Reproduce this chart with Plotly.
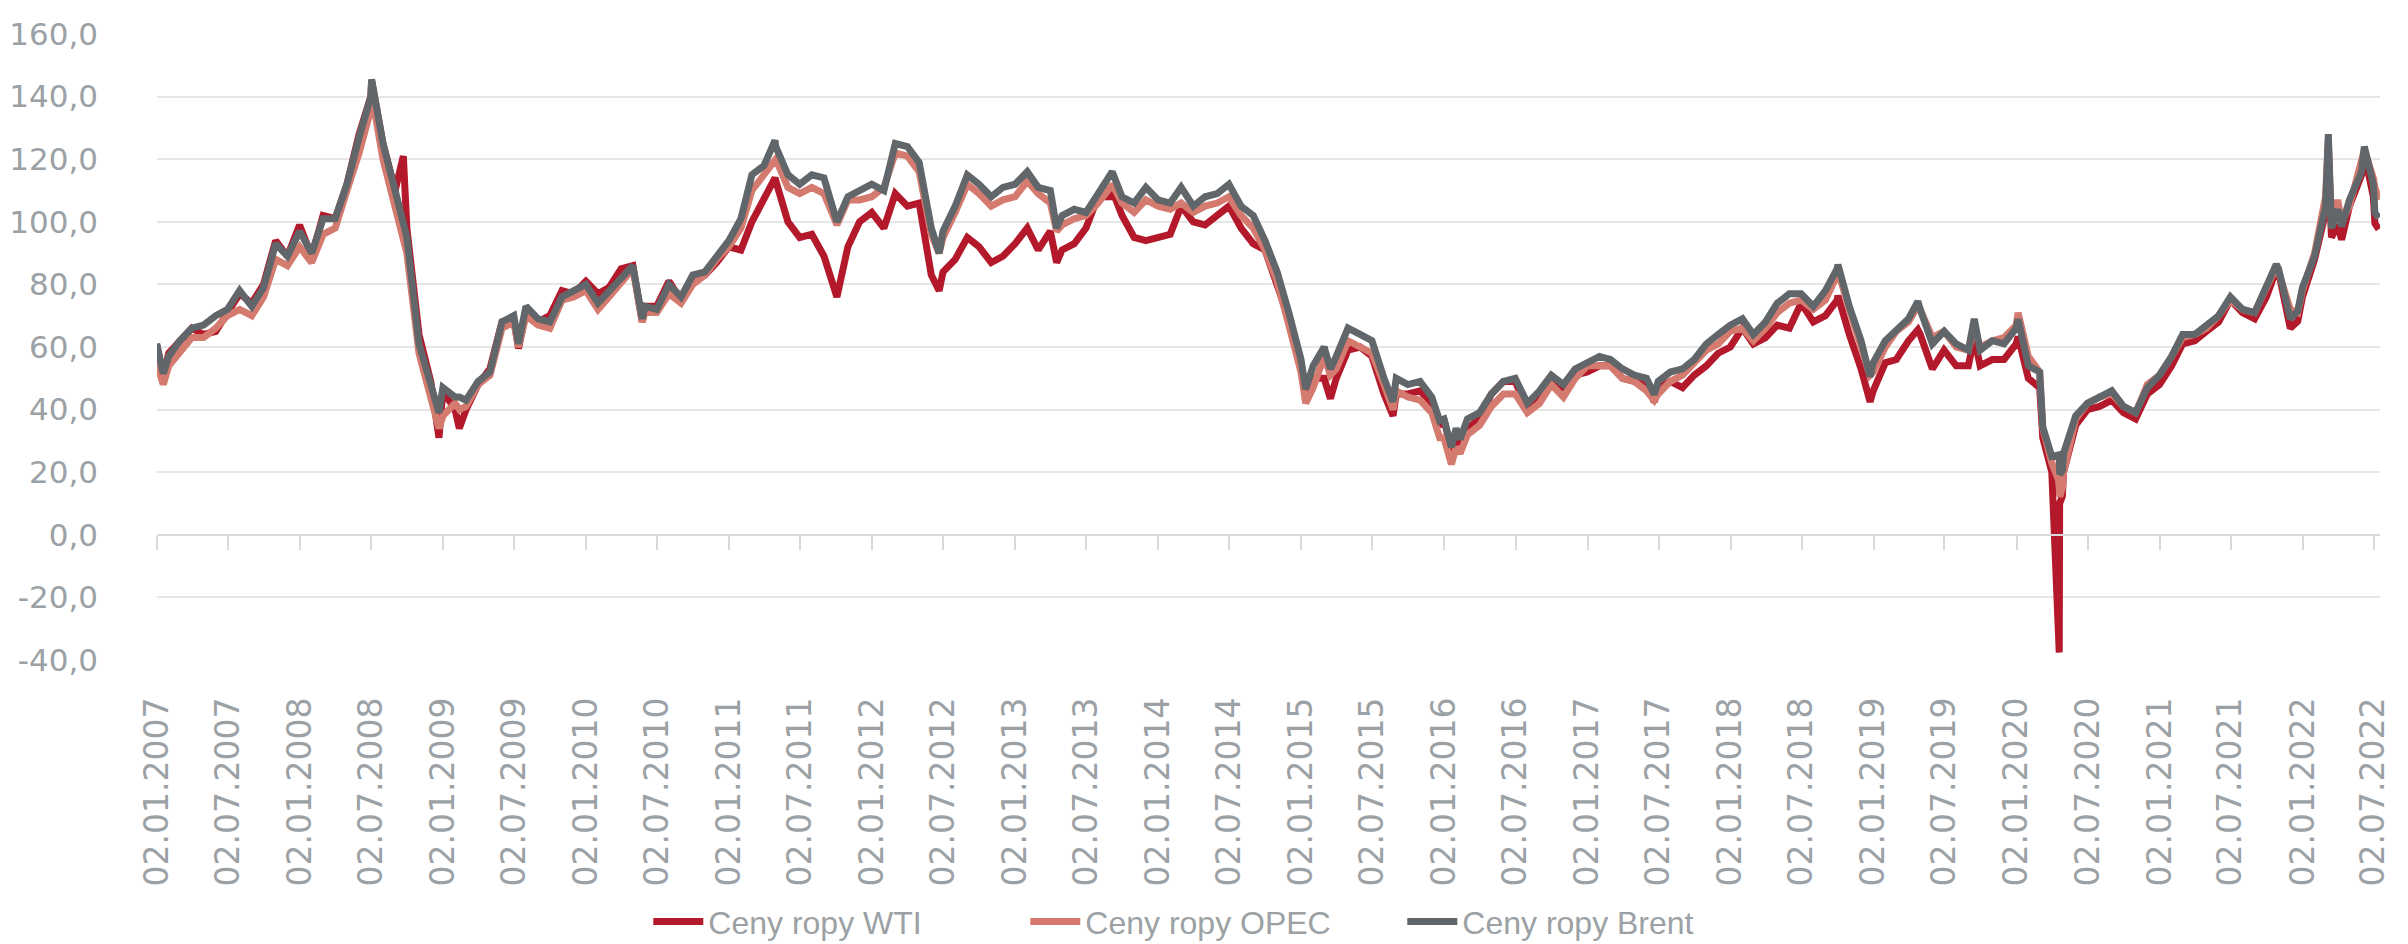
import plotly.graph_objects as go
import pandas as pd

# first trading day of each month, Jan 2007 .. Jul 2022
months = [f"{y}-{m:02d}-01" for y in range(2007, 2023) for m in range(1, 13)][:187]

wti = [
    61, 58, 62, 66, 64, 65, 71, 77, 74, 80, 94, 89,        # 2007
    99, 89, 102, 101, 112, 128, 140, 125, 110, 98, 64, 49,  # 2008
    46, 40, 40, 48, 53, 68, 69, 71, 68, 70, 78, 77,        # 2009
    81, 77, 79, 85, 86, 73, 73, 81, 75, 82, 83, 87,        # 2010
    92, 91, 100, 108, 113, 100, 95, 96, 89, 78, 92, 100,   # 2011
    103, 98, 109, 105, 106, 83, 84, 88, 95, 92, 87, 89,    # 2012
    93, 98, 91, 97, 91, 93, 98, 108, 108, 102, 95, 94,     # 2013
    95, 96, 105, 100, 99, 102, 105, 98, 93, 91, 79, 69,    # 2014
    53, 50, 50, 50, 59, 60, 57, 45, 45, 45, 46, 42,        # 2015
    37, 32, 34, 37, 45, 49, 49, 40, 43, 49, 47, 51,        # 2016
    52, 54, 54, 50, 49, 48, 47, 49, 47, 51, 54, 58,        # 2017
    60, 66, 61, 63, 67, 66, 74, 68, 70, 75, 64, 53,        # 2018
    46, 55, 56, 62, 64, 53, 59, 54, 54, 54, 56, 56,        # 2019
    61, 50, 47, 20, 20, 35, 40, 41, 43, 39, 37, 45,        # 2020
    48, 54, 61, 62, 65, 68, 75, 71, 69, 76, 84, 66,        # 2021
    76, 88, 103, 99, 105, 115, 108,                        # 2022
]

opec = [
    55, 54, 58, 63, 63, 66, 70, 72, 70, 76, 88, 86,
    92, 87, 96, 98, 110, 122, 136, 120, 105, 90, 58, 45,
    38, 42, 41, 48, 51, 66, 68, 70, 67, 66, 75, 76,
    78, 72, 76, 81, 85, 71, 71, 77, 74, 80, 83, 88,
    92, 98, 110, 115, 120, 111, 109, 111, 109, 100, 107, 107,
    108, 111, 122, 121, 116, 96, 95, 103, 112, 109, 105, 107,
    108, 113, 109, 106, 99, 101, 102, 106, 111, 106, 103, 107,
    105, 104, 106, 103, 105, 106, 108, 102, 98, 91, 81, 67,
    52, 47, 57, 53, 62, 60, 58, 48, 46, 44, 43, 39,
    31, 28, 32, 35, 41, 45, 45, 39, 42, 48, 44, 50,
    54, 54, 54, 50, 49, 46, 45, 49, 51, 55, 59, 61,
    65, 66, 62, 66, 71, 74, 75, 72, 75, 83, 72, 59,
    52, 60, 65, 68, 72, 63, 65, 60, 59, 60, 62, 63,
    67, 57, 52, 23, 20, 37, 42, 44, 45, 41, 39, 48,
    51, 57, 63, 64, 66, 70, 75, 72, 71, 79, 84, 72,
    78, 90, 108, 107, 105, 120, 114,
]

brent = [
    61, 57, 62, 66, 67, 70, 72, 78, 73, 79, 93, 89,
    97, 90, 101, 101, 112, 127, 140, 125, 110, 95, 61, 47,
    47, 44, 43, 49, 52, 68, 70, 73, 69, 68, 76, 78,
    80, 74, 78, 82, 86, 73, 72, 80, 76, 83, 84, 89,
    94, 101, 115, 118, 124, 115, 112, 115, 114, 101, 108, 110,
    112, 110, 125, 124, 119, 98, 97, 105, 115, 112, 108, 111,
    112, 116, 111, 110, 102, 104, 103, 109, 115, 108, 106, 111,
    107, 106, 111, 105, 108, 109, 112, 105, 102, 94, 84, 71,
    56, 54, 60, 57, 66, 64, 62, 50, 50, 48, 49, 44,
    37, 34, 37, 39, 45, 49, 50, 42, 46, 51, 48, 53,
    55, 57, 56, 53, 51, 50, 49, 52, 53, 56, 61, 64,
    67, 69, 64, 68, 74, 77, 77, 73, 78, 85, 73, 62,
    55, 62, 65, 69, 72, 61, 65, 61, 59, 59, 62, 61,
    66, 54, 52, 25, 26, 38, 42, 44, 46, 41, 39, 47,
    51, 57, 64, 64, 67, 70, 76, 72, 71, 79, 85, 69,
    79, 89, 105, 104, 107, 116, 112,
]

# intra-month extremes visible in the chart
event_dates = [
    "2007-01-18", "2008-07-03", "2008-09-22", "2008-12-22", "2009-02-12",
    "2009-07-13", "2010-05-25", "2011-04-29", "2011-10-04", "2012-06-21",
    "2013-04-17", "2013-09-06", "2015-01-13", "2015-03-17", "2015-08-24",
    "2015-12-21", "2016-01-20", "2016-02-11", "2017-06-21", "2018-10-03",
    "2018-12-24", "2019-04-25", "2019-09-16", "2020-01-06", "2020-03-09",
    "2020-04-20", "2020-04-21", "2020-04-28", "2021-10-26", "2021-12-20",
    "2022-03-08", "2022-03-16", "2022-04-11", "2022-06-08", "2022-07-05",
    "2022-07-15",
]
event_wti = [
    50.5, 145, 121, 31, 34, 59.5, 68, 114, 76, 78,
    87, 110, 46, 43.5, 38, 34.7, 26.5, 26.2, 42.5, 76.4,
    42.5, 65.5, 63, 63.3, 31, -37.6, 10, 12.3, 84.6, 68.2,
    123.7, 95, 94.3, 122, 99.5, 97.6,
]
event_opec = [
    48, 141, 95, 34, 40, 60, 68, 120, 99, 90,
    97, 112, 42, 51, 40, 31, 22.5, 26, 43, 84.5,
    51, 73, 66, 70.9, 34, 17, 12.2, 15, 85.4, 71,
    126, 98, 100, 123, 111, 107,
]
event_brent = [
    51.5, 145.5, 100, 39, 44, 61, 69, 126, 100, 90,
    98, 116, 46.5, 53, 42.5, 36.4, 28, 30.5, 44.8, 86.3,
    50.5, 74.6, 69, 68.9, 34.4, 25.6, 19.3, 20.5, 86.4, 71.5,
    128, 98, 98.5, 124, 102.8, 101.2,
]

tick_dates = [f"{y}-{m}-02" for y in range(2007, 2023) for m in ("01", "07")]
tick_text = [f"02.{m}.{y}" for y in range(2007, 2023) for m in ("01", "07")]
y_ticks = list(range(-40, 161, 20))
y_text = [f"{v:.1f}".replace(".", ",") for v in y_ticks]

x_range = ["2007-01-02", "2022-07-18"]
label_gray = "#9BA1A4"
grid_gray = "#E6E6E6"


def series(monthly, events):
    df = pd.DataFrame({"date": pd.to_datetime(months + event_dates),
                       "value": monthly + events})
    return df.sort_values("date")


fig = go.Figure()

for name, monthly, events, color in [
    ("Ceny ropy WTI", wti, event_wti, "#B3192B"),
    ("Ceny ropy OPEC", opec, event_opec, "#D47A6E"),
    ("Ceny ropy Brent", brent, event_brent, "#606669"),
]:
    df = series(monthly, events)
    fig.add_trace(go.Scatter(
        x=df["date"], y=df["value"], name=name, mode="lines",
        line=dict(color=color, width=7),
    ))

# empty trace so the tick axis at zero gets drawn
fig.add_trace(go.Scatter(x=[tick_dates[0]], y=[None], xaxis="x2",
                         showlegend=False, hoverinfo="skip"))

fig.update_layout(
    width=2408, height=944,
    margin=dict(l=149, r=36, t=26, b=292, autoexpand=False),
    plot_bgcolor="white", paper_bgcolor="white",
    xaxis=dict(
        range=x_range, tickvals=tick_dates, ticktext=tick_text,
        tickangle=-90, ticks="", showgrid=False, showline=False,
        zeroline=False, ticklabelstandoff=30,
        tickfont=dict(family="DejaVu Sans", size=33, color=label_gray),
    ),
    xaxis2=dict(
        range=x_range, overlaying="x", anchor="free", position=0.2,
        tickvals=tick_dates, showticklabels=False, ticks="outside",
        ticklen=14, tickwidth=2, tickcolor="#D9D9D9",
        showline=True, linecolor="#D9D9D9", linewidth=2, showgrid=False,
    ),
    yaxis=dict(
        range=[-40, 160], tickvals=y_ticks, ticktext=y_text,
        showgrid=True, gridcolor=grid_gray, gridwidth=2,
        zeroline=False, showline=False, ticklabelstandoff=58,
        tickfont=dict(family="DejaVu Sans", size=31, color=label_gray),
    ),
    legend=dict(
        orientation="h", x=0.221, xanchor="left", y=-0.418, yanchor="middle",
        font=dict(family="Liberation Sans", size=32, color=label_gray),
        itemwidth=50, entrywidth=312, entrywidthmode="pixels",
        bgcolor="rgba(0,0,0,0)",
    ),
)

fig.write_html("out.html")
